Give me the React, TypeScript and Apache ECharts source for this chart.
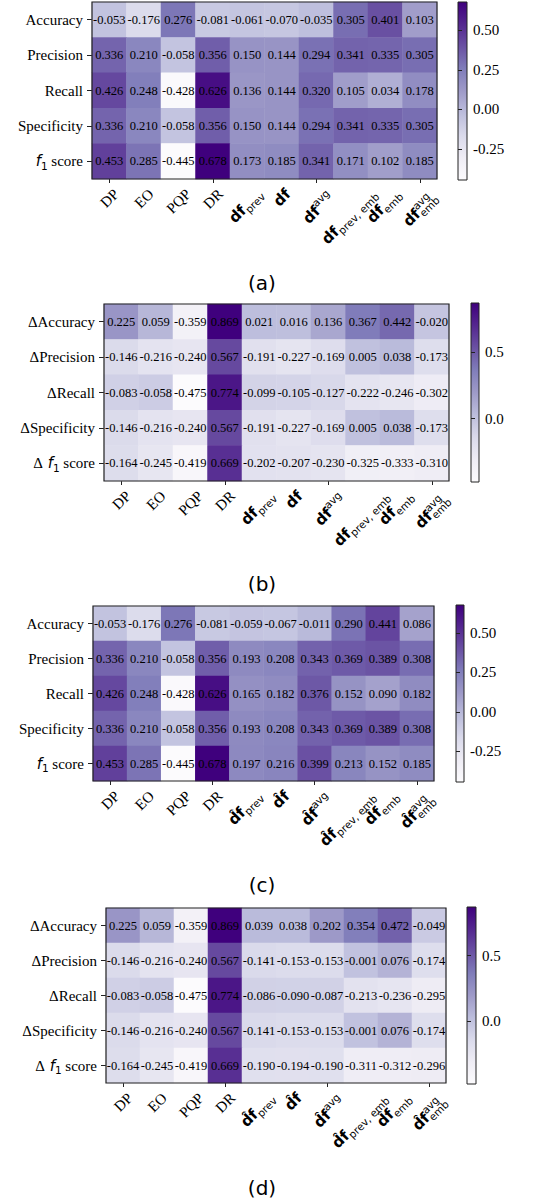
import React, { useEffect, useRef } from 'react';
import * as echarts from 'echarts';

// ---------- data ----------
const methods = ['DP', 'EO', 'PQP', 'DR', 'df_prev', 'df', 'df_avg', 'df_prev_emb', 'df_emb', 'df_avg_emb'];
// label pieces: [kind, text, stackOnPrevious?]
const methodPieces: [string, string, boolean?][][] = [
  [['s', 'DP']],
  [['s', 'EO']],
  [['s', 'PQP']],
  [['s', 'DR']],
  [['b', 'df'], ['sub', 'prev']],
  [['b', 'df']],
  [['b', 'df'], ['sup', 'avg']],
  [['b', 'df'], ['sub', 'prev, emb']],
  [['b', 'df'], ['sub', 'emb']],
  [['b', 'df'], ['sup', 'avg'], ['sub', 'emb', true]],
];
const hatDf = 'd\u0302f';

const metrics = ['Accuracy', 'Precision', 'Recall', 'Specificity', 'f1 score'];
const metricLabels = ['{s|Accuracy}', '{s|Precision}', '{s|Recall}', '{s|Specificity}', '{fi|f}{fs|1}{s| score}'];
const deltaMetricLabels = ['{s|ΔAccuracy}', '{s|ΔPrecision}', '{s|ΔRecall}', '{s|ΔSpecificity}', '{s|Δ}{fi| f}{fs|1}{s| score}'];

// panel (a)
const aAccuracy = [-0.053, -0.176, 0.276, -0.081, -0.061, -0.070, -0.035, 0.305, 0.401, 0.103];
const aPrecision = [0.336, 0.210, -0.058, 0.356, 0.150, 0.144, 0.294, 0.341, 0.335, 0.305];
const aRecall = [0.426, 0.248, -0.428, 0.626, 0.136, 0.144, 0.320, 0.105, 0.034, 0.178];
const aSpecificity = [0.336, 0.210, -0.058, 0.356, 0.150, 0.144, 0.294, 0.341, 0.335, 0.305];
const aF1 = [0.453, 0.285, -0.445, 0.678, 0.173, 0.185, 0.341, 0.171, 0.102, 0.185];

// panel (b)
const bAccuracy = [0.225, 0.059, -0.359, 0.869, 0.021, 0.016, 0.136, 0.367, 0.442, -0.020];
const bPrecision = [-0.146, -0.216, -0.240, 0.567, -0.191, -0.227, -0.169, 0.005, 0.038, -0.173];
const bRecall = [-0.083, -0.058, -0.475, 0.774, -0.099, -0.105, -0.127, -0.222, -0.246, -0.302];
const bSpecificity = [-0.146, -0.216, -0.240, 0.567, -0.191, -0.227, -0.169, 0.005, 0.038, -0.173];
const bF1 = [-0.164, -0.245, -0.419, 0.669, -0.202, -0.207, -0.230, -0.325, -0.333, -0.310];

// panel (c)
const cAccuracy = [-0.053, -0.176, 0.276, -0.081, -0.059, -0.067, -0.011, 0.290, 0.441, 0.086];
const cPrecision = [0.336, 0.210, -0.058, 0.356, 0.193, 0.208, 0.343, 0.369, 0.389, 0.308];
const cRecall = [0.426, 0.248, -0.428, 0.626, 0.165, 0.182, 0.376, 0.152, 0.090, 0.182];
const cSpecificity = [0.336, 0.210, -0.058, 0.356, 0.193, 0.208, 0.343, 0.369, 0.389, 0.308];
const cF1 = [0.453, 0.285, -0.445, 0.678, 0.197, 0.216, 0.399, 0.213, 0.152, 0.185];

// panel (d)
const dAccuracy = [0.225, 0.059, -0.359, 0.869, 0.039, 0.038, 0.202, 0.354, 0.472, -0.049];
const dPrecision = [-0.146, -0.216, -0.240, 0.567, -0.141, -0.153, -0.153, -0.001, 0.076, -0.174];
const dRecall = [-0.083, -0.058, -0.475, 0.774, -0.086, -0.090, -0.087, -0.213, -0.236, -0.295];
const dSpecificity = [-0.146, -0.216, -0.240, 0.567, -0.141, -0.153, -0.153, -0.001, 0.076, -0.174];
const dF1 = [-0.164, -0.245, -0.419, 0.669, -0.190, -0.194, -0.190, -0.311, -0.312, -0.296];

const cbTicksAbs = [-0.25, 0, 0.25, 0.5];
const cbTickLabelsAbs = ['-0.25', '0.00', '0.25', '0.50'];
const cbTicksDelta = [0, 0.5];
const cbTickLabelsDelta = ['0.0', '0.5'];

const panelTitles = ['(a)', '(b)', '(c)', '(d)'];

// ---------- style / layout ----------
const PURPLES = ['#fcfbfd', '#efedf5', '#dadaeb', '#bcbddc', '#9e9ac8', '#807dba', '#6a51a3', '#54278f', '#3f007d'];
const SERIF = 'Liberation Serif';
const SANS = 'DejaVu Sans';
const INK = '#222';

const layout = [
  { heat: { left: 92, top: 2, width: 345, height: 177 }, cb: { left: 458, top: 2, width: 9, height: 178 }, title: { x: 262, y: 283 } },
  { heat: { left: 104, top: 304, width: 345, height: 177 }, cb: { left: 471, top: 303, width: 8, height: 179 }, title: { x: 262, y: 584 } },
  { heat: { left: 93, top: 606, width: 341, height: 175 }, cb: { left: 456, top: 605, width: 8, height: 177 }, title: { x: 262, y: 885 } },
  { heat: { left: 106, top: 908, width: 340, height: 175 }, cb: { left: 467, top: 907, width: 9, height: 177 }, title: { x: 262, y: 1188 } },
];

const pieceFont: Record<string, { family: string; size: number; weight: string }> = {
  s: { family: SERIF, size: 15, weight: 'normal' },
  b: { family: SANS, size: 15, weight: 'bold' },
  sub: { family: SANS, size: 10.5, weight: 'normal' },
  sup: { family: SANS, size: 10.5, weight: 'normal' },
};
const pieceDy: Record<string, number> = { s: 0, b: 0, sub: 4.5, sup: -5.5 };

const yRich = {
  s: { fontFamily: SERIF, fontSize: 15, color: '#000', lineHeight: 20 },
  fi: { fontFamily: SANS, fontStyle: 'italic', fontSize: 15, color: '#000', lineHeight: 20 },
  fs: { fontFamily: SANS, fontSize: 10.5, color: '#000', lineHeight: 10, verticalAlign: 'bottom' },
};

export default function App() {
  const ref = useRef<HTMLDivElement>(null);
  const overlayRef = useRef<HTMLDivElement>(null);
  useEffect(() => {
    if (!ref.current || !overlayRef.current) return;
    const chart = echarts.init(ref.current, undefined, { renderer: 'svg' });
    const overlay = echarts.init(overlayRef.current, undefined, { renderer: 'svg' });
    const ctx = document.createElement('canvas').getContext('2d') as CanvasRenderingContext2D;
    const measure = (kind: string, t: string) => {
      const f = pieceFont[kind];
      ctx.font = `${f.weight} ${f.size}px "${f.family}"`;
      return ctx.measureText(t).width;
    };

    const panels = [
      { rows: [aAccuracy, aPrecision, aRecall, aSpecificity, aF1], yl: metricLabels, hat: false, ticks: cbTicksAbs, tickLabels: cbTickLabelsAbs },
      { rows: [bAccuracy, bPrecision, bRecall, bSpecificity, bF1], yl: deltaMetricLabels, hat: false, ticks: cbTicksDelta, tickLabels: cbTickLabelsDelta },
      { rows: [cAccuracy, cPrecision, cRecall, cSpecificity, cF1], yl: metricLabels, hat: true, ticks: cbTicksAbs, tickLabels: cbTickLabelsAbs },
      { rows: [dAccuracy, dPrecision, dRecall, dSpecificity, dF1], yl: deltaMetricLabels, hat: true, ticks: cbTicksDelta, tickLabels: cbTickLabelsDelta },
    ];

    const grid: any[] = [];
    const xAxis: any[] = [];
    const yAxis: any[] = [];
    const series: any[] = [];
    const visualMap: any[] = [];
    const graphic: any[] = [];
    const heatXAxisIdx: number[] = [];

    panels.forEach((p, pi) => {
      const L = layout[pi];
      const all = p.rows.flat();
      const vmin = Math.min(...all);
      const vmax = Math.max(...all);
      const data: any[] = [];
      p.rows.forEach((row, ri) => row.forEach((v, ci) => data.push([ci, ri, v])));

      const hg = grid.length;
      grid.push({ ...L.heat, show: true, backgroundColor: 'rgba(0,0,0,0)', borderColor: INK, borderWidth: 1.2, z: 10 });
      const cg = grid.length;
      grid.push({
        ...L.cb, show: true, borderColor: INK, borderWidth: 1,
        backgroundColor: new echarts.graphic.LinearGradient(0, 1, 0, 0, PURPLES.map((c, i) => ({ offset: i / (PURPLES.length - 1), color: c }))),
      });

      const hx = xAxis.length;
      heatXAxisIdx.push(hx);
      xAxis.push({
        type: 'category', gridIndex: hg, data: methods, position: 'bottom',
        axisLine: { show: false },
        axisTick: { show: true, alignWithLabel: true, length: 4, lineStyle: { color: INK, width: 1 } },
        axisLabel: { show: false },
        splitLine: { show: false },
      });
      xAxis.push({ type: 'value', gridIndex: cg, show: false, min: 0, max: 1 });

      const hy = yAxis.length;
      yAxis.push({
        type: 'category', gridIndex: hg, data: metrics, inverse: true,
        axisLine: { show: false },
        axisTick: { show: true, alignWithLabel: true, length: 5, lineStyle: { color: INK, width: 1 } },
        axisLabel: { margin: 9, interval: 0, formatter: (_v: string, i: number) => p.yl[i], rich: yRich },
        splitLine: { show: false },
      });
      yAxis.push({
        type: 'value', gridIndex: cg, min: vmin, max: vmax, position: 'right',
        axisLine: { show: false },
        axisTick: { show: true, length: 4, customValues: p.ticks, lineStyle: { color: INK, width: 1 } },
        axisLabel: {
          customValues: p.ticks, margin: 6, color: '#000', fontFamily: SERIF, fontSize: 15,
          formatter: (v: number) => {
            const k = p.ticks.findIndex((t) => Math.abs(t - v) < 1e-9);
            return k >= 0 ? p.tickLabels[k] : '';
          },
        },
        splitLine: { show: false },
      });

      const si = series.length;
      series.push({
        type: 'heatmap', xAxisIndex: hx, yAxisIndex: hy, data,
        label: { show: true, color: '#000', fontFamily: SERIF, fontSize: 12.5, formatter: (prm: any) => Number(prm.value[2]).toFixed(3) },
        emphasis: { disabled: true },
        progressive: 0,
      });
      visualMap.push({ type: 'continuous', show: false, seriesIndex: si, dimension: 2, min: vmin, max: vmax, inRange: { color: PURPLES } });

      graphic.push({
        type: 'text', x: L.title.x, y: L.title.y,
        style: { text: panelTitles[pi], fontFamily: SANS, fontSize: 20, fill: '#000', textAlign: 'center', textVerticalAlign: 'middle' },
      });
    });

    chart.setOption({ animation: false, backgroundColor: '#fff', grid, xAxis, yAxis, series, visualMap, graphic });

    // rotated x-axis labels (matplotlib style: rotation 45, centred on the tick), drawn in an overlay instance
    const labelGraphics: any[] = [];
    panels.forEach((p, pi) => {
      const L = layout[pi];
      const axisBottom = L.heat.top + L.heat.height;
      methodPieces.forEach((pieces, ci) => {
        const tickX = chart.convertToPixel({ xAxisIndex: heatXAxisIdx[pi] } as any, ci) as unknown as number;
        let cursor = 0;
        let prevStart = 0;
        let hasSub = false;
        let hasSup = false;
        const placed: any[] = [];
        pieces.forEach(([kind, t0, stack]) => {
          const t = p.hat && kind === 'b' ? t0.replace('df', hatDf) : t0;
          const w = measure(kind, t);
          let x0 = cursor;
          if (stack) { x0 = prevStart; cursor = Math.max(cursor, x0 + w); } else { cursor = x0 + w; }
          prevStart = x0;
          if (kind === 'sub') hasSub = true;
          if (kind === 'sup') hasSup = true;
          placed.push({ kind, t, x0 });
        });
        const W = cursor;
        const h1 = 7 + (hasSup ? 5 : 0);
        const h2 = 6 + (hasSub ? 5 : 0);
        const top = axisBottom + 7.5;
        const ox = tickX - (h2 - h1) / (2 * Math.SQRT2);
        const oy = top + (W / 2 + h1) / Math.SQRT2;
        labelGraphics.push({
          type: 'group', x: ox, y: oy, rotation: Math.PI / 4,
          children: placed.map((pc) => {
            const f = pieceFont[pc.kind];
            return {
              type: 'text', x: pc.x0 - W / 2, y: pieceDy[pc.kind],
              style: {
                text: pc.t, fontFamily: f.family, fontSize: f.size, fontWeight: f.weight as any,
                fill: '#000', textAlign: 'left', textVerticalAlign: 'middle',
              },
            };
          }),
        });
      });
    });
    overlay.setOption({ animation: false, graphic: labelGraphics });

    return () => { overlay.dispose(); chart.dispose(); };
  }, []);

  return (
    <div style={{ position: 'absolute', left: 0, top: 0, width: 535, height: 1203, background: '#fff' }}>
      <div ref={ref} style={{ position: 'absolute', left: 0, top: 0, width: 535, height: 1203 }} />
      <div ref={overlayRef} style={{ position: 'absolute', left: 0, top: 0, width: 535, height: 1203, pointerEvents: 'none' }} />
    </div>
  );
}
